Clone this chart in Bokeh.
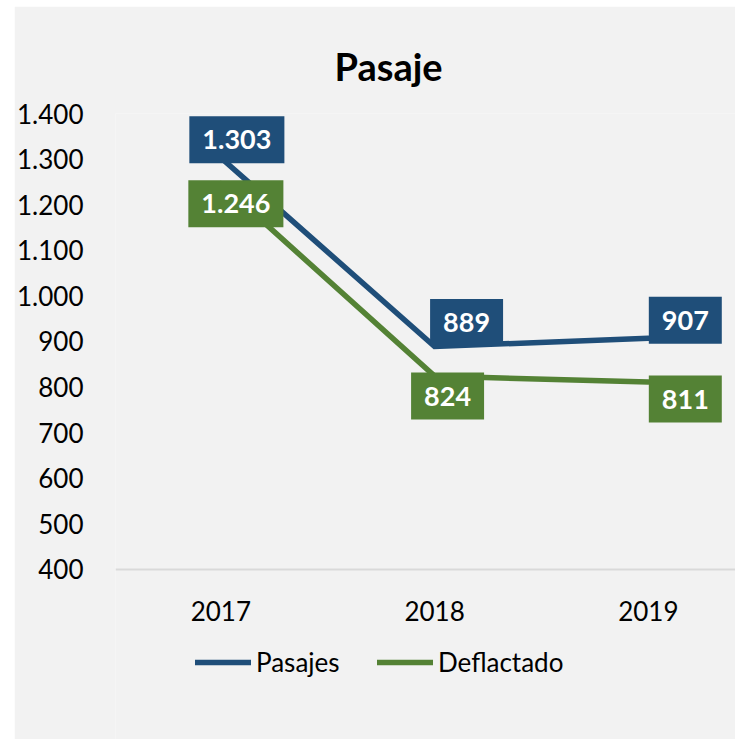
from bokeh.plotting import figure
from bokeh.models import (ColumnDataSource, Range1d, FixedTicker, Legend, LegendItem)
from bokeh.core.properties import value
from bokeh.embed import file_html
from bokeh.resources import INLINE

# ---- data ----
years = [2017, 2018, 2019]
pasajes = [1303, 889, 907]
deflactado = [1246, 824, 811]
y_ticks = [400, 500, 600, 700, 800, 900, 1000, 1100, 1200, 1300, 1400]
y_tick_labels = ["400", "500", "600", "700", "800", "900", "1.000", "1.100", "1.200", "1.300", "1.400"]
x_tick_labels = ["2017", "2018", "2019"]
series_names = ["Pasajes", "Deflactado"]

# ---- styles / layout ----
BLUE = "#1F4E79"
GREEN = "#548235"
BG = "#F2F2F2"
FONT = "Lato"
pas_dx = [16, 32, 37]
pas_dy = [-18, -24, -18]
def_dx = [15, 13, 37]
def_dy = [20, 20, 17]
Y_MIN_VIEW = 27   # lower end of the visible area (room for the legend below the axis)


def fmt(v):
    return f"{v:,}".replace(",", ".")


p = figure(width=721, height=733, output_backend="svg", toolbar_location=None,
           x_range=Range1d(2016.507, 2019.408), y_range=Range1d(Y_MIN_VIEW, 1400),
           min_border_left=100, min_border_right=0, min_border_top=107,
           min_border_bottom=0)
p.margin = (6, 0, 0, 14)
p.background_fill_color = BG
p.border_fill_color = BG
p.outline_line_color = None
p.grid.visible = False

p.title.text = "Pasaje"
p.title.text_font = FONT
p.title.text_font_size = "38px"
p.title.text_font_style = "bold"
p.title.text_color = "black"
p.title.align = "left"
p.title.offset = 219
p.title.standoff = 49

# axes
p.yaxis.ticker = FixedTicker(ticks=y_ticks)
p.yaxis.major_label_overrides = {t: l for t, l in zip(y_ticks, y_tick_labels)}
p.yaxis.axis_line_color = None
p.yaxis.major_tick_line_color = None
p.yaxis.minor_tick_line_color = None
p.yaxis.major_label_standoff = 26
p.xaxis.fixed_location = y_ticks[0]
p.xaxis.ticker = FixedTicker(ticks=years)
p.xaxis.major_label_overrides = {y: l for y, l in zip(years, x_tick_labels)}
p.xaxis.axis_line_color = "#D9D9D9"
p.xaxis.axis_line_width = 2
p.xaxis.major_tick_line_color = None
p.xaxis.minor_tick_line_color = None
p.xaxis.major_label_standoff = 26
for ax in (p.xaxis, p.yaxis):
    ax.major_label_text_font = FONT
    ax.major_label_text_font_size = "26px"
    ax.major_label_text_color = "black"

src_p = ColumnDataSource(dict(x=years, y=pasajes, t=[fmt(v) for v in pasajes], dx=pas_dx, dy=pas_dy))
src_d = ColumnDataSource(dict(x=years, y=deflactado, t=[fmt(v) for v in deflactado], dx=def_dx, dy=def_dy))

r_p = p.line("x", "y", source=src_p, line_color=BLUE, line_width=5.5, line_join="miter", line_cap="round")
r_d = p.line("x", "y", source=src_d, line_color=GREEN, line_width=5.5, line_join="miter", line_cap="round")

for src, col in ((src_p, BLUE), (src_d, GREEN)):
    p.text(x="x", y="y", text="t", source=src, x_offset="dx", y_offset="dy",
           text_align="center", text_baseline="middle", text_color="white",
           text_font=value(FONT), text_font_style="bold", text_font_size="27px",
           background_fill_color=col,
           padding=dict(left=13, right=13, top=14, bottom=14))

for name, rend, loc in ((series_names[0], r_p, (80, 61)), (series_names[1], r_d, (262, 61))):
    lg = Legend(items=[LegendItem(label=name, renderers=[rend])],
                orientation="horizontal", location=loc,
                glyph_width=56, glyph_height=20, label_standoff=5,
                padding=0, margin=0, background_fill_alpha=0, border_line_alpha=0,
                label_text_font=FONT, label_text_font_size="26px", label_text_color="black")
    p.add_layout(lg, "center")

open("out.html", "w").write(file_html(p, INLINE))
